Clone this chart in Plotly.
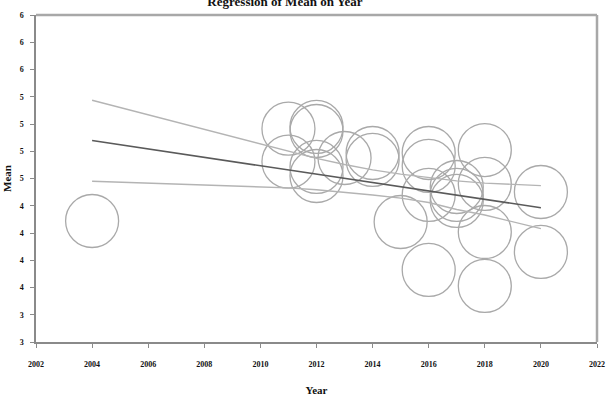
import plotly.graph_objects as go

# Data
years = [2004, 2011, 2011, 2012, 2012, 2012, 2012, 2013, 2014, 2014, 2015,
         2016, 2016, 2016, 2016, 2017, 2017, 2017, 2018, 2018, 2018, 2018,
         2020, 2020]
means = [4.11, 4.957, 4.654, 4.973, 4.936, 4.606, 4.523, 4.688, 4.734, 4.670, 4.101,
         4.734, 4.615, 4.349, 3.661, 4.422, 4.349, 4.294, 4.761, 4.450, 4.009, 3.514,
         4.376, 3.826]

line_x = [2004, 2011, 2012, 2013, 2014, 2015, 2016, 2017, 2018, 2020]
fit_line = [4.848, 4.580, 4.541, 4.502, 4.464, 4.425, 4.386, 4.347, 4.308, 4.232]
upper_band = [5.218, 4.746, 4.685, 4.629, 4.579, 4.540, 4.510, 4.478, 4.458, 4.435]
lower_band = [4.475, 4.414, 4.397, 4.375, 4.349, 4.320, 4.280, 4.216, 4.165, 4.040]

y_tickvals = [3.0, 3.25, 3.5, 3.75, 4.0, 4.25, 4.5, 4.75, 5.0, 5.25, 5.5, 5.75, 6.0]
y_ticktext = ["3", "3", "4", "4", "4", "4", "5", "5", "5", "5", "6", "6", "6"]
x_tickvals = list(range(2002, 2023, 2))

serif = "Liberation Serif"

fig = go.Figure()
fig.add_trace(go.Scatter(
    x=years, y=means, mode="markers",
    marker=dict(symbol="circle-open", size=53, color="#a9a9a9",
                line=dict(width=1.3, color="#a9a9a9")),
    showlegend=False, hoverinfo="x+y"))
fig.add_trace(go.Scatter(x=line_x, y=upper_band, mode="lines",
                         line=dict(color="#b4b4b4", width=1.4), showlegend=False))
fig.add_trace(go.Scatter(x=line_x, y=lower_band, mode="lines",
                         line=dict(color="#b4b4b4", width=1.4), showlegend=False))
fig.add_trace(go.Scatter(x=line_x, y=fit_line, mode="lines",
                         line=dict(color="#5a5a5a", width=1.6), showlegend=False))

# top and right frame lines (lighter than the axes)
fig.add_shape(type="line", xref="paper", yref="paper", x0=0, x1=1, y0=1, y1=1,
              line=dict(color="#a8a8a8", width=2.5))
fig.add_shape(type="line", xref="paper", yref="paper", x0=1, x1=1, y0=0, y1=1,
              line=dict(color="#a8a8a8", width=2.5))

fig.update_layout(
    width=606, height=399,
    margin=dict(l=36, r=9, t=15, b=57),
    paper_bgcolor="white", plot_bgcolor="white",
    font=dict(family=serif, color="#111"),
    title=dict(text="<b>Regression of Mean on Year</b>",
               x=285 / 606, xref="container", xanchor="center",
               y=1 - 1 / 399, yref="container", yanchor="middle",
               font=dict(size=13, family=serif, color="#111")),
    xaxis=dict(range=[2002, 2022], tickvals=x_tickvals,
               ticktext=[f"<b>{v}</b>" for v in x_tickvals],
               showgrid=False, zeroline=False, showline=True,
               linecolor="#8a8a8a", linewidth=1.5,
               ticks="outside", ticklen=4, tickcolor="#8a8a8a",
               ticklabelstandoff=10, automargin=False,
               tickfont=dict(size=8, family=serif, color="#111"),
               title=dict(text="<b>Year</b>", standoff=18,
                          font=dict(size=11, family=serif, color="#111"))),
    yaxis=dict(range=[3, 6], tickvals=y_tickvals,
               ticktext=[f"<b>{t}</b>" for t in y_ticktext],
               showgrid=False, zeroline=False, showline=True,
               linecolor="#8a8a8a", linewidth=1.5,
               ticks="outside", ticklen=4, tickcolor="#8a8a8a",
               ticklabelstandoff=5, automargin=False,
               tickfont=dict(size=8, family=serif, color="#111"),
               title=dict(text="<b>Mean</b>", standoff=6,
                          font=dict(size=11, family=serif, color="#111"))),
)

fig.write_html("out.html", config={"displayModeBar": False},
               post_script="document.body.style.margin='0';")
